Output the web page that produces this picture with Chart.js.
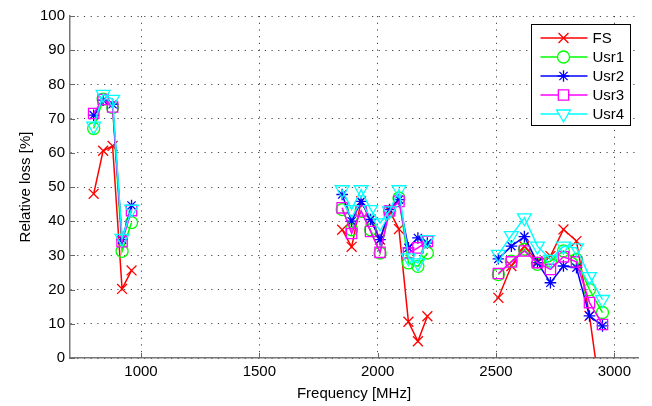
<!DOCTYPE html>
<html>
<head>
<meta charset="utf-8">
<script src="https://cdn.jsdelivr.net/npm/chart.js@4/dist/chart.umd.min.js"></script>
<style>
  html, body { margin: 0; background: #fff; }
  #wrap { width: 652px; height: 406px; }
</style>
</head>
<body>
<div id="wrap"><canvas id="lossChart"></canvas></div>
<script>
// === Data ===
const seriesNames = ["FS", "Usr1", "Usr2", "Usr3", "Usr4"];
const xTickValues = [1000, 1500, 2000, 2500, 3000];

const freqBand1 = [800, 840, 880, 920, 960];
const freqBand2 = [1850, 1890, 1930, 1970, 2010, 2050, 2090, 2130, 2170, 2210];
const freqBand3 = [2510, 2565, 2620, 2675, 2730, 2785, 2840, 2895, 2950];

const fsBand1 = [48, 60.6, 62, 20.2, 25.6];
const fsBand2 = [37.5, 32.5, 45.8, 40.5, 34.6, 43, 37.7, 10.6, 4.9, 12.2];
const fsBand3 = [17.6, 26.9, 32.7, 28.3, 29.8, 37.6, 34.2, 12.3, -15];

const usr1Band1 = [67.1, 75.7, 73.2, 31.2, 39.6];
const usr1Band2 = [43.4, 37.5, 42.9, 37.5, 30.7, 42.9, 46.8, 27.8, 26.8, 30.7];
const usr1Band3 = [24.4, 28.3, 31.8, 27.4, 28.3, 31.3, 28.8, 20, 13.3];

const usr2Band1 = [71, 75.4, 74.2, 34.6, 44.6];
const usr2Band2 = [47.8, 40, 45.8, 40.5, 34.6, 43.4, 46.3, 32.2, 35.1, 33.6];
const usr2Band3 = [29, 32.7, 35.5, 27.9, 22, 26.9, 26.4, 12.3, 9.4];

const usr3Band1 = [71.5, 75.6, 73.4, 34, 43.1];
const usr3Band2 = [43.9, 36.4, 43, 37, 30.9, 43, 45.8, 30.7, 32.2, 34.1];
const usr3Band3 = [24.7, 28.1, 31.3, 27.9, 25.9, 29.6, 28.1, 16.2, 9.8];

const usr4Band1 = [67.8, 77.1, 75.6, 35, 43.5];
const usr4Band2 = [49.2, 43.4, 49.2, 43.4, 39.5, 43, 49.2, 29.3, 27.8, 34.6];
const usr4Band3 = [30.3, 35.8, 41, 32.7, 28.8, 32.7, 32.2, 23.8, 17.1];

// === Styles ===
const FONT = '"Liberation Sans", Arial, Helvetica, sans-serif';
const stili = [
  { color: "#ff0000", pointStyle: "crossRot", radius: 7, rotation: 0 },
  { color: "#00ff00", pointStyle: "circle", radius: 6, rotation: 0 },
  { color: "#0000ff", pointStyle: "star", radius: 5.8, rotation: 0 },
  { color: "#ff00ff", pointStyle: "rect", radius: 7.3, rotation: 0 },
  { color: "#00ffff", pointStyle: "triangle", radius: 8, rotation: 180 }
];

// punti con un "buco" tra le bande (spanGaps false)
function costruisciPunti(b1, b2, b3) {
  const pts = [];
  freqBand1.forEach((f, i) => pts.push({ x: f, y: b1[i] }));
  pts.push({ x: (freqBand1[freqBand1.length - 1] + freqBand2[0]) / 2, y: null });
  freqBand2.forEach((f, i) => pts.push({ x: f, y: b2[i] }));
  pts.push({ x: (freqBand2[freqBand2.length - 1] + freqBand3[0]) / 2, y: null });
  freqBand3.forEach((f, i) => pts.push({ x: f, y: b3[i] }));
  return pts;
}

const bande = [
  [fsBand1, fsBand2, fsBand3],
  [usr1Band1, usr1Band2, usr1Band3],
  [usr2Band1, usr2Band2, usr2Band3],
  [usr3Band1, usr3Band2, usr3Band3],
  [usr4Band1, usr4Band2, usr4Band3]
];

const datasets = seriesNames.map((nome, i) => ({
  label: nome,
  data: costruisciPunti(...bande[i]),
  borderColor: stili[i].color,
  backgroundColor: "transparent",
  borderWidth: 1.5,
  pointStyle: stili[i].pointStyle,
  pointRadius: stili[i].radius,
  pointRotation: stili[i].rotation,
  pointBorderColor: stili[i].color,
  pointBackgroundColor: "transparent",
  pointBorderWidth: 1.3,
  spanGaps: false,
  tension: 0,
  order: seriesNames.length - i
}));

// === Tick interni stile MATLAB ===
const tickInterni = {
  id: "tickInterni",
  afterDraw(chart) {
    const { ctx, chartArea, scales } = chart;
    ctx.save();
    ctx.strokeStyle = "#666";
    ctx.lineWidth = 1;
    scales.x.ticks.forEach(t => {
      const px = Math.round(scales.x.getPixelForValue(t.value)) + 0.5;
      ctx.beginPath();
      ctx.moveTo(px, chartArea.bottom);
      ctx.lineTo(px, chartArea.bottom - 5);
      ctx.stroke();
    });
    scales.y.ticks.forEach(t => {
      const py = Math.round(scales.y.getPixelForValue(t.value)) + 0.5;
      ctx.beginPath();
      ctx.moveTo(chartArea.left, py);
      ctx.lineTo(chartArea.left + 5, py);
      ctx.stroke();
    });
    ctx.restore();
  }
};

// === Legenda dentro il grafico ===
const legendaBox = {
  id: "legendaBox",
  afterDraw(chart) {
    const { ctx, chartArea } = chart;
    const w = 99, h = 101;
    const left = Math.round(chartArea.right - 8 - w) + 0.5;
    const top = Math.round(chartArea.top + 8) + 0.5;
    ctx.save();
    ctx.fillStyle = "#fff";
    ctx.strokeStyle = "#000";
    ctx.lineWidth = 1;
    ctx.fillRect(left, top, w, h);
    ctx.strokeRect(left, top, w, h);
    ctx.font = "15px " + FONT;
    ctx.textBaseline = "middle";
    seriesNames.forEach((nome, i) => {
      const y = top + 13.5 + i * 19;
      const st = stili[i];
      ctx.strokeStyle = st.color;
      ctx.lineWidth = 1.5;
      ctx.beginPath();
      ctx.moveTo(left + 9, y);
      ctx.lineTo(left + 56, y);
      ctx.stroke();
      ctx.fillStyle = "#fff";
      ctx.lineWidth = 1.3;
      Chart.helpers.drawPoint(ctx, {
        pointStyle: st.pointStyle,
        radius: st.radius,
        rotation: st.rotation,
        borderWidth: 1.3
      }, left + 32, y);
      ctx.fillStyle = "#000";
      ctx.fillText(nome, left + 61, y + 0.5);
    });
    ctx.restore();
  }
};

new Chart(document.getElementById("lossChart"), {
  type: "line",
  data: { datasets },
  plugins: [tickInterni, legendaBox],
  options: {
    responsive: true,
    maintainAspectRatio: false,
    animation: false,
    layout: { padding: { top: 16, right: 14, left: 0, bottom: 0 } },
    plugins: { legend: { display: false }, tooltip: { enabled: false } },
    scales: {
      x: {
        type: "linear",
        min: 700,
        max: 3100,
        afterBuildTicks: s => { s.ticks = xTickValues.map(v => ({ value: v })); },
        afterFit: s => { s.height = 48; },
        grid: { color: "#444", lineWidth: 1, drawTicks: false },
        border: { color: "#777", width: 1.5, dash: [1.2, 5.5] },
        ticks: { color: "#000", font: { family: FONT, size: 15 }, padding: 5, maxRotation: 0, autoSkip: false, callback: v => String(v) },
        title: { display: true, text: "Frequency [MHz]", color: "#000", font: { family: FONT, size: 15 }, padding: { top: 0, bottom: 3 } }
      },
      y: {
        min: 0,
        max: 100,
        afterFit: s => { s.width = 70; },
        grid: { color: "#444", lineWidth: 1, drawTicks: false },
        border: { color: "#777", width: 1.5, dash: [1.2, 5.5] },
        ticks: { stepSize: 10, color: "#000", font: { family: FONT, size: 15 }, padding: 5, callback: v => String(v) },
        title: { display: true, text: "Relative loss [%]", color: "#000", font: { family: FONT, size: 15 }, padding: { top: 17, bottom: 0 } }
      }
    }
  }
});
</script>
</body>
</html>
